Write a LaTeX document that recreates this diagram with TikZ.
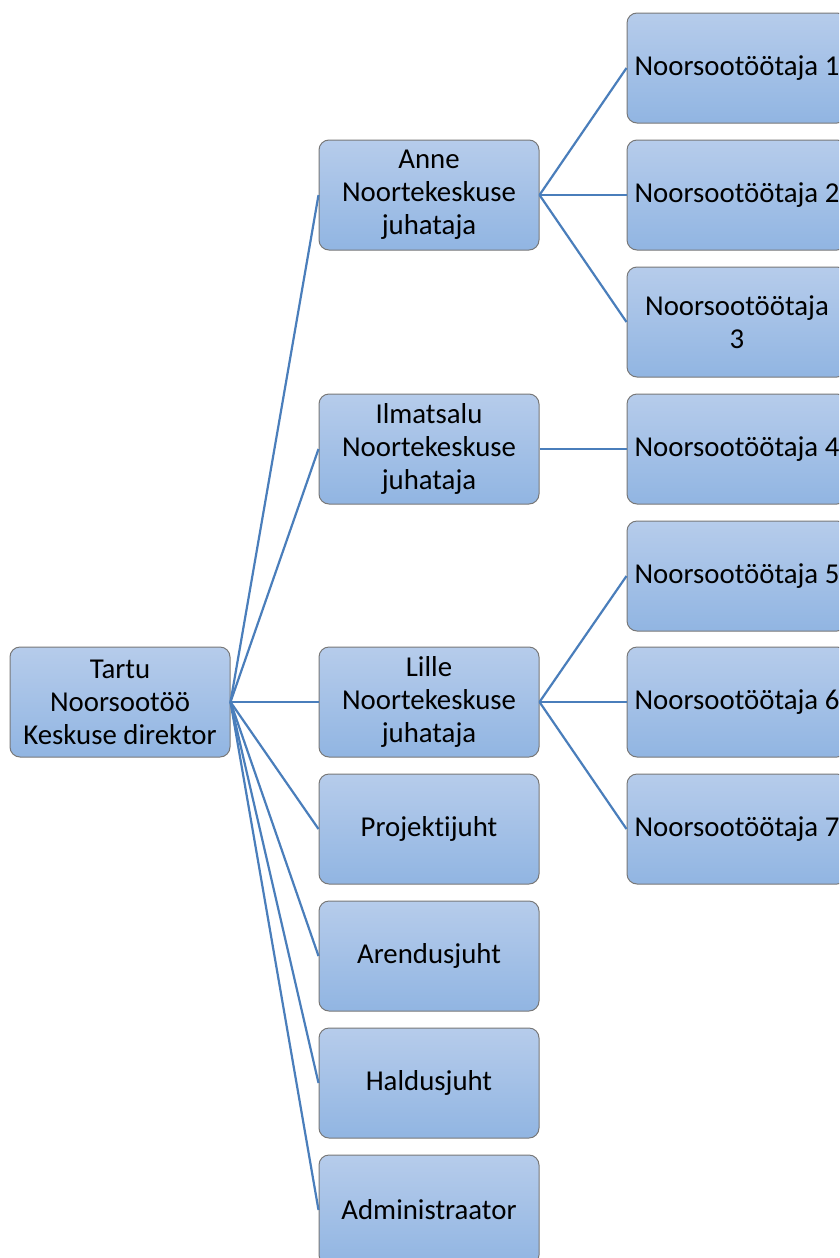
\documentclass[tikz,border=0pt]{standalone}
\usepackage{fontspec}
\setmainfont[Ligatures={NoCommon}]{Carlito}
\usetikzlibrary{positioning}
\definecolor{boxtop}{RGB}{182,204,235}
\definecolor{boxbot}{RGB}{145,181,226}
\definecolor{boxline}{RGB}{120,120,120}
\definecolor{linkblue}{RGB}{74,126,187}
\tikzset{
  orgbox/.style={draw=boxline, line width=1pt, rounded corners=10pt,
    top color=boxtop, bottom color=boxbot,
    minimum width=220pt, minimum height=110pt, inner sep=0pt,
    align=center, font=\fontsize{28.8}{33}\selectfont},
  link/.style={draw=linkblue, line width=2.2pt}
}
\begin{document}
\begin{tikzpicture}[x=1pt,y=-1pt]
\clip (0,0) rectangle (839,1258);
\node[orgbox] (dir) at (120,702) {Tartu\\Noorsootöö\\Keskuse direktor};

\node[orgbox] (anne) at (429,195) {Anne\\Noortekeskuse\\juhataja};
\node[orgbox] (ilmatsalu) at (429,449) {Ilmatsalu\\Noortekeskuse\\juhataja};
\node[orgbox] (lille) at (429,702) {Lille\\Noortekeskuse\\juhataja};
\node[orgbox] (projekt) at (429,829) {Projektijuht};
\node[orgbox] (arendus) at (429,956) {Arendusjuht};
\node[orgbox] (haldus) at (429,1083) {Haldusjuht};
\node[orgbox] (admin) at (429,1210) {Administraator};

\foreach \n/\y in {1/68,2/195,4/449,5/576,6/702,7/829}
  \node[orgbox] (nt\n) at (737,\y) {Noorsootöötaja \n};
\node[orgbox] (nt3) at (737,322) {Noorsootöötaja\\3};

\foreach \b in {anne,ilmatsalu,lille,projekt,arendus,haldus,admin}
  \draw[link] (dir.east) -- (\b.west);
\foreach \n in {1,2,3}
  \draw[link] (anne.east) -- (nt\n.west);
\draw[link] (ilmatsalu.east) -- (nt4.west);
\foreach \n in {5,6,7}
  \draw[link] (lille.east) -- (nt\n.west);
\end{tikzpicture}
\end{document}
